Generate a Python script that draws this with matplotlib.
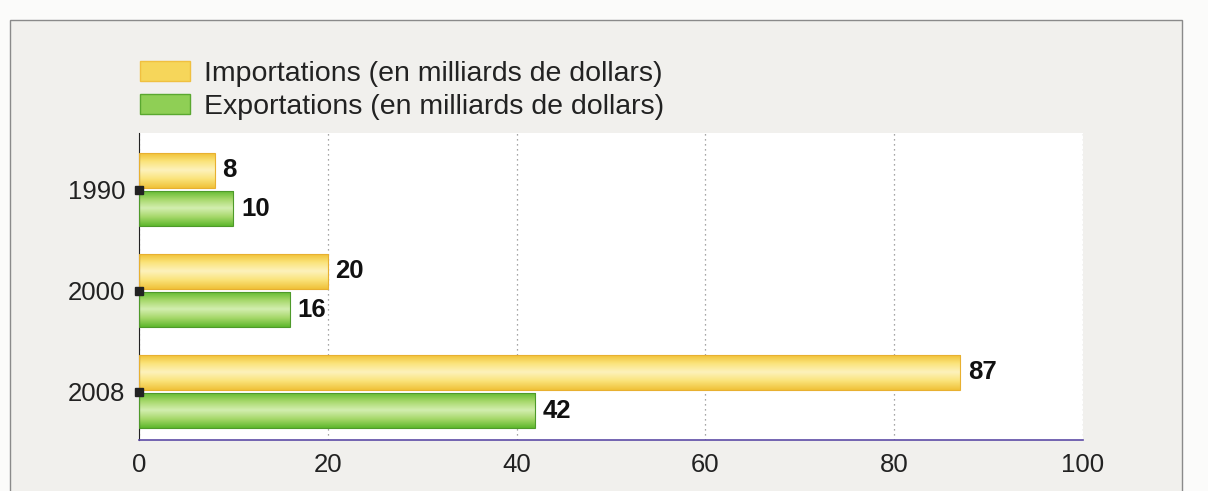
import numpy as np
import matplotlib
matplotlib.use('Agg')
import matplotlib.pyplot as plt
from matplotlib.patches import Rectangle, Patch
from matplotlib.colors import LinearSegmentedColormap

# Data
years = ['1990', '2000', '2008']
imports = [8, 20, 87]
exports = [10, 16, 42]
x_ticks = [0, 20, 40, 60, 80, 100]

label_imp = 'Importations (en milliards de dollars)'
label_exp = 'Exportations (en milliards de dollars)'

plt.rcParams['font.family'] = ['Liberation Sans', 'DejaVu Sans']

fig = plt.figure(figsize=(12.08, 4.91), dpi=100)
fig.patch.set_facecolor('#fbfbfa')

# outer page frame
frame = Rectangle((10 / 1208, -0.01), (1182 - 10) / 1208, (491 - 20) / 491 + 0.01,
                  transform=fig.transFigure, facecolor='#f1f0ed', edgecolor='#8a8a8a',
                  linewidth=1.0, zorder=-10)
fig.patches.append(frame)

ax = fig.add_axes([139 / 1208, 51 / 491, (1083 - 139) / 1208, (440 - 133) / 491])
ax.set_facecolor('white')
ax.set_zorder(1)

y = np.arange(len(years))
h = 0.35
gap = 0.03

imp_cmap = LinearSegmentedColormap.from_list('imp', ['#f0bf30', '#fae37a', '#fdf2bc', '#fae37a', '#f0c23a'])
exp_cmap = LinearSegmentedColormap.from_list('exp', ['#5fb82e', '#a6d86a', '#d3eeb0', '#a6d86a', '#5fb82e'])

grad = np.linspace(0, 1, 64).reshape(-1, 1)

def gradient_bars(values, offset, cmap, edge):
    bars = ax.barh(y + offset, values, height=h, color='none', edgecolor=edge,
                   linewidth=0.8, zorder=3)
    for b in bars:
        x0, y0 = b.get_x(), b.get_y()
        im = ax.imshow(grad, cmap=cmap, aspect='auto', zorder=2,
                       extent=[x0, x0 + b.get_width(), y0 + b.get_height(), y0])
        im.set_clip_path(b)
    return bars

bars_imp = gradient_bars(imports, -h / 2 - gap / 2, imp_cmap, '#e8b030')
bars_exp = gradient_bars(exports, h / 2 + gap / 2, exp_cmap, '#4e9a2a')

for bars, vals in ((bars_imp, imports), (bars_exp, exports)):
    for b, v in zip(bars, vals):
        ax.text(v + 0.8, b.get_y() + b.get_height() / 2, str(v), va='center', ha='left',
                fontsize=18.5, fontweight='bold', color='#111111', zorder=4)

ax.set_xlim(0, 100)
ax.set_ylim(2.48, -0.56)
ax.set_xticks(x_ticks)
ax.set_xticklabels([str(t) for t in x_ticks])
ax.set_yticks(y)
ax.set_yticklabels(years)
ax.tick_params(axis='x', length=0, pad=9, labelsize=18.5, colors='#222222')
ax.tick_params(axis='y', length=0, pad=10, labelsize=18.5, colors='#222222')

# square tick markers on the y axis
ax.plot(np.zeros(len(years)), y, 's', color='#222222', markersize=6, clip_on=False, zorder=5)

ax.grid(axis='x', linestyle=(0, (1, 3)), color='#888888', linewidth=0.9)
ax.set_axisbelow(True)
for s in ('top', 'right'):
    ax.spines[s].set_visible(False)
ax.spines['left'].set_color('#222222')
ax.spines['bottom'].set_color('#5d4ba6')
ax.spines['bottom'].set_linewidth(1.2)

handles = [Patch(facecolor='#f6d65a', edgecolor='#f0c040', label=label_imp),
           Patch(facecolor='#8fcf55', edgecolor='#5aa830', label=label_exp)]
fig.legend(handles=handles, loc='upper left', bbox_to_anchor=(126 / 1208, 1 - 47 / 491),
           frameon=False, fontsize=20.5, handlelength=1.75, handleheight=0.7,
           handletextpad=0.5, labelspacing=0.22, borderpad=0, labelcolor='#222222')

fig.savefig('out.png', dpi=100, facecolor=fig.get_facecolor())
